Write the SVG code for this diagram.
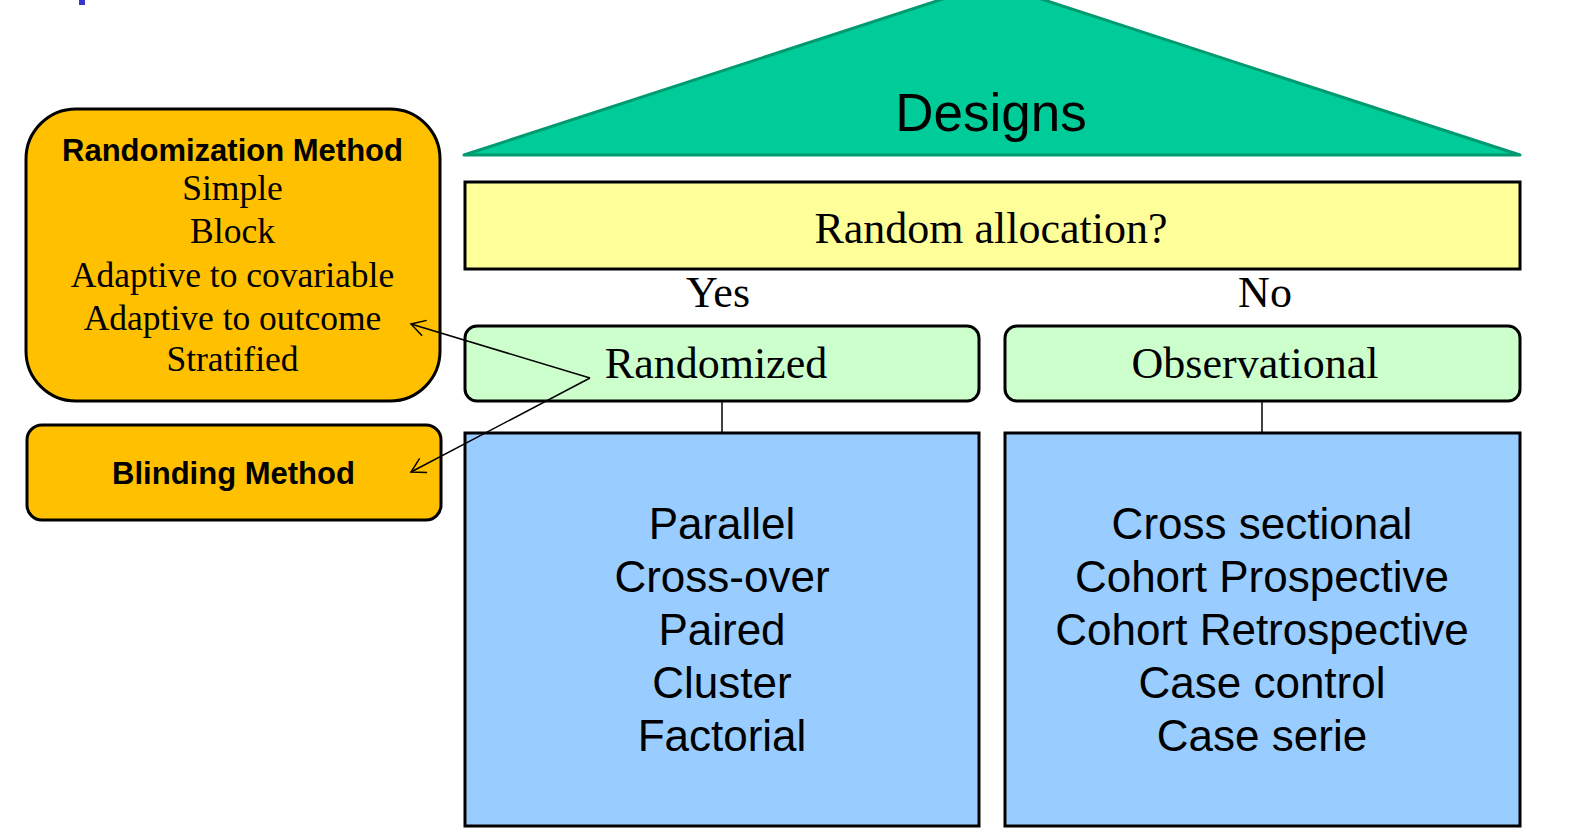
<svg xmlns="http://www.w3.org/2000/svg" width="1570" height="840" viewBox="0 0 1570 840">
<style>
.box{stroke:#000;stroke-width:3}
.orange{fill:#ffc000}
.green{fill:#ccffcc}
.blue{fill:#99ccff}
.yellow{fill:#ffff99}
.sans{font-family:"Liberation Sans",Arial,sans-serif;fill:#000;text-anchor:middle}
.serif{font-family:"Liberation Serif","Times New Roman",serif;fill:#000;text-anchor:middle}
.bold{font-weight:bold;font-size:31px}
.big{font-size:44px}
.mid{font-size:35.5px}
.conn{stroke:#000;stroke-width:1.5;fill:none}
</style>
<defs>
<marker id="open" viewBox="-20 -10 22 20" refX="0" refY="0" markerWidth="22" markerHeight="20" markerUnits="userSpaceOnUse" orient="auto">
<path d="M-14,-8 L0,0 L-14,8" fill="none" stroke="#000" stroke-width="1.5"/>
</marker>
</defs>
<rect width="1570" height="840" fill="#fff"/>
<rect x="79" y="0" width="6" height="5" fill="#3535d0"/>

<g id="designs">
<polygon points="992,-17 1520,155 464,155" fill="#00cc99" stroke="#009a70" stroke-width="3" stroke-linejoin="round"/>
<text class="sans" x="991" y="131" font-size="53">Designs</text>
</g>

<g id="random-allocation">
<rect class="box yellow" x="465" y="182" width="1055" height="87"/>
<text class="serif big" x="991" y="243">Random allocation?</text>
</g>

<g id="labels">
<text class="serif big" x="718" y="307">Yes</text>
<text class="serif big" x="1265" y="307">No</text>
</g>

<g id="randomized">
<rect class="box green" x="465" y="326" width="514" height="75" rx="12"/>
<text class="serif big" x="716" y="378">Randomized</text>
</g>

<g id="observational">
<rect class="box green" x="1005" y="326" width="515" height="75" rx="12"/>
<text class="serif big" x="1255" y="378">Observational</text>
</g>

<g id="randomized-designs">
<rect class="box blue" x="465" y="433" width="514" height="393"/>
<text class="sans big" x="722" y="539">Parallel</text>
<text class="sans big" x="722" y="592">Cross-over</text>
<text class="sans big" x="722" y="645">Paired</text>
<text class="sans big" x="722" y="698">Cluster</text>
<text class="sans big" x="722" y="751">Factorial</text>
</g>

<g id="observational-designs">
<rect class="box blue" x="1005" y="433" width="515" height="393"/>
<text class="sans big" x="1262" y="539">Cross sectional</text>
<text class="sans big" x="1262" y="592">Cohort Prospective</text>
<text class="sans big" x="1262" y="645">Cohort Retrospective</text>
<text class="sans big" x="1262" y="698">Case control</text>
<text class="sans big" x="1262" y="751">Case serie</text>
</g>

<g id="randomization-method">
<rect class="box orange" x="26" y="109" width="414" height="292" rx="50"/>
<text class="sans bold" x="232.5" y="161">Randomization Method</text>
<text class="serif mid" x="232.5" y="200">Simple</text>
<text class="serif mid" x="232.5" y="243">Block</text>
<text class="serif mid" x="232.5" y="287">Adaptive to covariable</text>
<text class="serif mid" x="232.5" y="330">Adaptive to outcome</text>
<text class="serif mid" x="232.5" y="371">Stratified</text>
</g>

<g id="blinding-method">
<rect class="box orange" x="27" y="425" width="414" height="95" rx="15"/>
<text class="sans bold" x="233.5" y="484">Blinding Method</text>
</g>

<g id="connectors">
<line class="conn" x1="722" y1="401" x2="722" y2="433"/>
<line class="conn" x1="1262" y1="401" x2="1262" y2="433"/>
<line class="conn" x1="590" y1="378" x2="411" y2="324" marker-end="url(#open)"/>
<line class="conn" x1="590" y1="378" x2="411" y2="472" marker-end="url(#open)"/>
</g>
</svg>
